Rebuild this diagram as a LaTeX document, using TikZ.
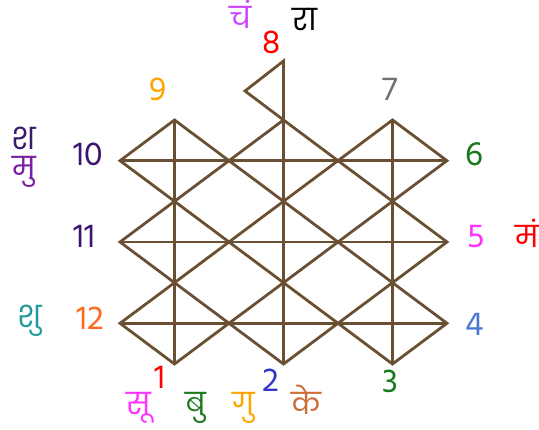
\documentclass[tikz,border=0pt]{standalone}
\usepackage{fontspec}
\setmainfont{Hind Siliguri}
\newfontfamily\deva[Script=Devanagari]{Poppins}
\definecolor{gridbrown}{HTML}{6B4F33}
\definecolor{cviolet}{HTML}{CC44FF}
\definecolor{cred}{HTML}{FF0000}
\definecolor{corange}{HTML}{FFA500}
\definecolor{cgray}{HTML}{707070}
\definecolor{cdpurple}{HTML}{3A1A6A}
\definecolor{cpurple}{HTML}{7A1FA2}
\definecolor{cindigo}{HTML}{3D1470}
\definecolor{cgreen}{HTML}{1A7A1A}
\definecolor{cmagenta}{HTML}{FF33FF}
\definecolor{cteal}{HTML}{229A9A}
\definecolor{corangered}{HTML}{FF6A1A}
\definecolor{cblue}{HTML}{4A78D0}
\definecolor{cdblue}{HTML}{3535CC}
\definecolor{csienna}{HTML}{CD6E3A}
\begin{document}
\begin{tikzpicture}[x=1pt,y=-1pt,
  gridline/.style={draw=gridbrown, line width=2.8pt},
  num/.style={font=\fontsize{34}{36}\selectfont, anchor=base, inner sep=0pt},
  hin/.style={font=\deva\fontsize{30}{34}\selectfont, anchor=base, inner sep=0pt}]
\useasboundingbox (0,0) rectangle (539,430);
\foreach \i/\x in {0/120,1/174.5,2/229,3/283.5,4/338,5/392.5,6/447}
  \foreach \j/\y in {0/120,1/160.7,2/201.3,3/242,4/282.7,5/323.3,6/364}
    \coordinate (p\i\j) at (\x,\y);
\coordinate (ftop) at (283.5,61);
\coordinate (ftip) at (245,91);
% diamonds
\foreach \a/\b/\c in {0/1/2,2/3/4,4/5/6}
  \foreach \u/\v/\w in {0/1/2,2/3/4,4/5/6}
    \draw[gridline] (p\a\v) -- (p\b\u) -- (p\c\v) -- (p\b\w) -- cycle;
% horizontal and vertical lines
\foreach \r in {1,3,5} \draw[gridline] (p0\r) -- (p6\r);
\foreach \c in {1,3,5} \draw[gridline] (p\c0) -- (p\c6);
% flag
\draw[gridline] (p30) -- (ftop) -- (ftip) -- cycle;
% numbers
\node[num, text=cred]      (n8)  at (272,54)  {8};
\node[num, text=corange]   (n9)  at (158,101) {9};
\node[num, text=cgray]     (n7)  at (390,101) {7};
\node[num, text=cindigo]   (n10) at (88,166)  {10};
\node[num, text=cgreen]    (n6)  at (474,166) {6};
\node[num, text=cindigo]   (n11) at (84,248)  {11};
\node[num, text=cmagenta]  (n5)  at (476,248) {5};
\node[num, text=corangered](n12) at (90,330)  {12};
\node[num, text=cblue]     (n4)  at (475,336) {4};
\node[num, text=cred]      (n1)  at (160,389) {1};
\node[num, text=cdblue]    (n2)  at (271,392) {2};
\node[num, text=cgreen]    (n3)  at (390,393) {3};
% planets
\node[hin, text=cviolet]   (h1)  at (241,29)  {चं};
\node[hin, text=black]     (h2)  at (305,31)  {रा};
\node[hin, text=cdpurple]  (h3)  at (24,150)  {श};
\node[hin, text=cpurple]   (h4)  at (24,179)  {मु};
\node[hin, text=cred]      (h5)  at (527,248) {मं};
\node[hin, text=cteal]     (h6)  at (30,328)  {शु};
\node[hin, text=cmagenta]  (h7)  at (139,415) {सू};
\node[hin, text=cgreen]    (h8)  at (196,415) {बु};
\node[hin, text=corange]   (h9)  at (244,415) {गु};
\node[hin, text=csienna]   (h10) at (306,415) {के};
\end{tikzpicture}
\end{document}
